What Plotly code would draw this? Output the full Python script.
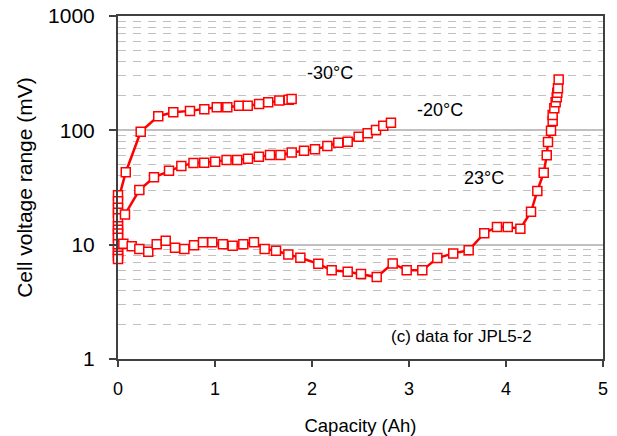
import plotly.graph_objects as go

# -30°C series
cap_m30 = [0.0, 0.0, 0.08, 0.234, 0.415, 0.570, 0.742, 0.890, 1.018, 1.127, 1.247, 1.337, 1.454, 1.549, 1.663, 1.76, 1.79]
mv_m30 = [27, 24, 43, 97, 133, 144, 148, 153, 159, 159, 164, 164, 170, 176, 182, 185, 188]

# -20°C series
cap_m20 = [0.0, 0.0, 0.0, 0.072, 0.22, 0.371, 0.526, 0.653, 0.778, 0.889, 1.002, 1.119, 1.229, 1.340,
           1.452, 1.567, 1.675, 1.791, 1.918, 2.031, 2.158, 2.271, 2.368, 2.481, 2.574, 2.660,
           2.735, 2.814]
mv_m20 = [21, 19, 17, 18.4, 30, 38.8, 44.3, 48.7, 51.7, 52.1, 53.1, 55, 55, 56.5,
          58.8, 60.8, 60.8, 64, 66.3, 68.2, 72.9, 78, 79.5, 87.9, 94.2, 100.6,
          109.7, 116.6]

# 23°C series
cap_23 = [0.0, 0.0, 0.0, 0.0, 0.0, 0.0, 0.0, 0.0, 0.0, 0.055, 0.141, 0.22, 0.312, 0.399, 0.492,
          0.588, 0.684, 0.784, 0.876, 0.972, 1.082, 1.182, 1.292, 1.402, 1.512, 1.629, 1.756,
          1.88, 2.065, 2.203, 2.368, 2.505, 2.667, 2.832, 2.976, 3.137, 3.292, 3.456, 3.615,
          3.776, 3.907, 4.018, 4.148, 4.258, 4.323, 4.389, 4.420, 4.433, 4.464, 4.481, 4.481,
          4.498, 4.512, 4.523, 4.529, 4.536, 4.543]
mv_23 = [14.5, 13.5, 12.5, 11.5, 9.0, 8.5, 8.0, 7.5, 10.1, 10.2, 9.7, 9.15, 8.67, 10.1, 10.8,
         9.4, 9.15, 9.86, 10.5, 10.5, 10.1, 9.8, 10.1, 10.5, 9.15, 8.85, 8.2,
         7.68, 6.8, 5.96, 5.79, 5.53, 5.21, 6.86, 5.96, 5.96, 7.63, 8.39, 8.93,
         12.6, 14.3, 14.3, 13.8, 19.4, 29.5, 42.6, 60.4, 79, 99.3, 120.6, 136,
         156, 176, 195, 213, 233, 279]

series_names = ["-30°C", "-20°C", "23°C"]
note_text = "(c) data for JPL5-2"
x_ticks = [0, 1, 2, 3, 4, 5]
y_ticks = [1, 10, 100, 1000]
y_tick_text = ["1", "10", "100", "1000"]

RED = "#FF0000"
AXIS = "#404040"
FONT = "Liberation Sans, Arial, sans-serif"

fig = go.Figure()
for name, xs, ys in [(series_names[0], cap_m30, mv_m30),
                     (series_names[1], cap_m20, mv_m20),
                     (series_names[2], cap_23, mv_23)]:
    fig.add_trace(go.Scatter(
        x=xs, y=ys, mode="lines+markers", name=name,
        line=dict(color=RED, width=2.5),
        marker=dict(symbol="square", size=9, color="white",
                    line=dict(color=RED, width=1.5)),
        cliponaxis=False,
    ))

label_font = dict(size=18, color="black", family=FONT)
fig.add_annotation(x=2.186, y=2.50, text=series_names[0], showarrow=False, font=label_font)
fig.add_annotation(x=3.32, y=2.178, text=series_names[1], showarrow=False, font=label_font)
fig.add_annotation(x=3.773, y=1.58, text=series_names[2], showarrow=False, font=label_font)
fig.add_annotation(x=3.541, y=0.194, text=note_text, showarrow=False,
                   font=dict(size=17, color="black", family=FONT))

fig.update_layout(
    width=617, height=436,
    margin=dict(l=118, r=14, t=16, b=77, autoexpand=False),
    paper_bgcolor="white", plot_bgcolor="white",
    showlegend=False,
    font=dict(family=FONT, color="black"),
)
fig.update_xaxes(
    range=[0, 5], tickvals=x_ticks, ticks="outside", ticklen=6, tickwidth=1.5,
    tickcolor=AXIS, showline=True, linecolor=AXIS, linewidth=2, mirror=True,
    showgrid=False, zeroline=False, tickfont=dict(size=18),
    ticklabelstandoff=6, automargin=False, ticklabeloverflow="allow",
    title=dict(text="Capacity (Ah)", font=dict(size=18.5), standoff=22),
)
fig.update_yaxes(
    type="log", range=[0, 3.0001], tickvals=y_ticks, ticktext=y_tick_text,
    ticks="outside", ticklen=7, tickwidth=1.5, tickcolor=AXIS,
    showline=True, linecolor=AXIS, linewidth=2, mirror=True,
    showgrid=True, gridcolor="#c0c0c0", gridwidth=1.5, zeroline=False,
    tickfont=dict(size=21), ticklabelstandoff=10, ticklabeloverflow="allow",
    automargin=False,
    minor=dict(showgrid=True, dtick="D1", gridcolor="#c0c0c0", gridwidth=1,
               griddash="8px,7px", ticks=""),
    title=dict(text="Cell voltage range (mV)", font=dict(size=21), standoff=10),
)

# remove the browser's default 8px body margin so the 617x436 figure fills the window
fig.write_html("out.html",
               config={"displayModeBar": False},
               post_script="document.body.style.margin='0';document.body.style.overflow='hidden';")
